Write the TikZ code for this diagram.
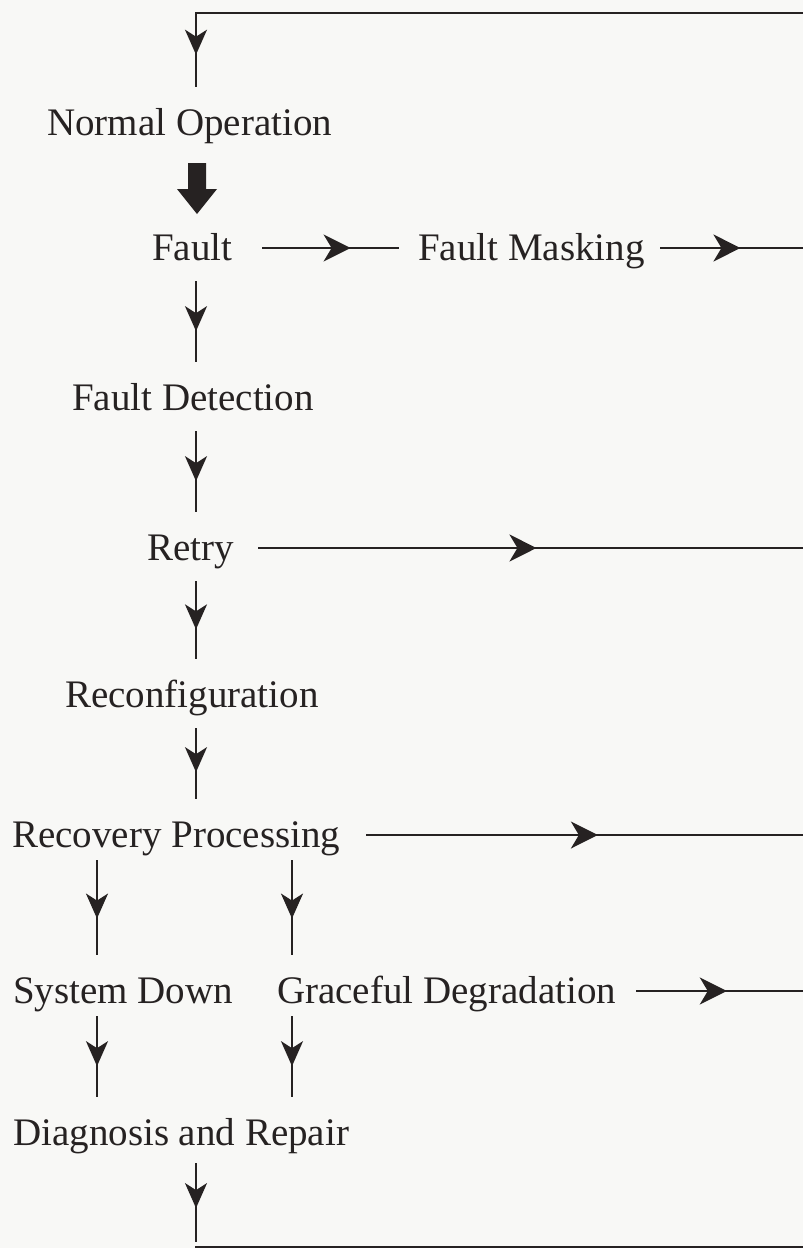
\documentclass[tikz,border=0pt]{standalone}
\usepackage{fontspec}
\setmainfont{Liberation Serif}
\usetikzlibrary{arrows.meta,decorations.markings}
\definecolor{ink}{HTML}{262222}
\definecolor{paper}{HTML}{F8F8F6}
\begin{document}
\begin{tikzpicture}[x=1pt,y=-1pt,
  lbl/.style={anchor=base west, inner xsep=12pt, inner ysep=0pt,
    text height=46pt, text depth=22pt,
    font=\fontsize{39}{46}\selectfont, text=ink},
  wire/.style={draw=ink, line width=2pt, line cap=rect},
  flow/.style={wire, postaction={decorate},
    decoration={markings, mark=at position #1 with
      {\arrow[ink]{Stealth[length=27pt,width=27pt,inset=8pt]}}}},
  flow/.default=0.55,
  down/.style={wire, shorten >=3pt, postaction={decorate},
    decoration={markings, mark=at position #1 with
      {\arrow[ink]{Stealth[length=25pt,width=22pt,inset=7pt]}}}},
  down/.default=0.6]
\useasboundingbox (0,0) rectangle (803,1248);
\fill[paper] (0,0) rectangle (803,1248);

% labels (anchored at the left end of their baseline)
\node[lbl] (no)     at (35,135)   {Normal Operation};
\node[lbl] (fault)  at (140,260)  {Fault};
\node[lbl] (fm)     at (406,260)  {Fault Masking};
\node[lbl] (fd)     at (60,410)   {Fault Detection};
\node[lbl] (retry)  at (135,560)  {Retry};
\node[lbl] (reconf) at (53,707)   {Reconfiguration};
\node[lbl] (recov)  at (0,847)    {Recovery Processing};
\node[lbl] (sd)     at (1,1003)   {System Down};
\node[lbl] (gd)     at (265,1003) {Graceful Degradation};
\node[lbl] (dr)     at (1,1145)   {Diagnosis and Repair};

% frame corners and right edge
\coordinate (tl) at (196,13);
\coordinate (tr) at (803,13);
\coordinate (bl) at (196,1247);
\coordinate (br) at (803,1247);
\coordinate (edge) at (803,0);

% return loop
\draw[wire] (tr) -- (tl);
\draw[down=0.55] (tl) -- (no.north -| tl);
\draw[down=0.55] ([yshift=3pt]dr.south -| bl) -- ([yshift=3pt]bl);
\draw[wire] (bl) -- (br);

% occurrence of a fault
\fill[ink] (188,163) -- (206,163) -- (206,189) -- (217,189)
  -- (197,214) -- (177,189) -- (188,189) -- cycle;

% main column
\draw[down] (fault.south -| tl) -- (fd.north -| tl);
\draw[down] (fd.south -| tl) -- (retry.north -| tl);
\draw[down] (retry.south -| tl) -- (reconf.north -| tl);
\draw[down] (reconf.south -| tl) -- (recov.north -| tl);

% two branches after recovery processing
\draw[down] ([yshift=8pt]recov.south -| 97,0) -- (sd.north -| 97,0);
\draw[down] ([yshift=8pt]recov.south -| 292,0) -- (gd.north -| 292,0);
\draw[down] ([yshift=8pt]sd.south -| 97,0) -- (dr.north -| 97,0);
\draw[down] ([yshift=8pt]gd.south -| 292,0) -- (dr.north -| 292,0);

% exits to the right
\draw[flow=0.65] ([xshift=18pt]fault.east) -- ([xshift=-8pt]fm.west);
\draw[flow=0.56] ([xshift=4pt]fm.east) -- (fm.east -| edge);
\draw[flow=0.51] ([xshift=13pt]retry.east) -- (retry.east -| edge);
\draw[flow=0.53] ([xshift=14pt]recov.east) -- (recov.east -| edge);
\draw[flow=0.54] ([xshift=9pt]gd.east) -- (gd.east -| edge);
\end{tikzpicture}
\end{document}
